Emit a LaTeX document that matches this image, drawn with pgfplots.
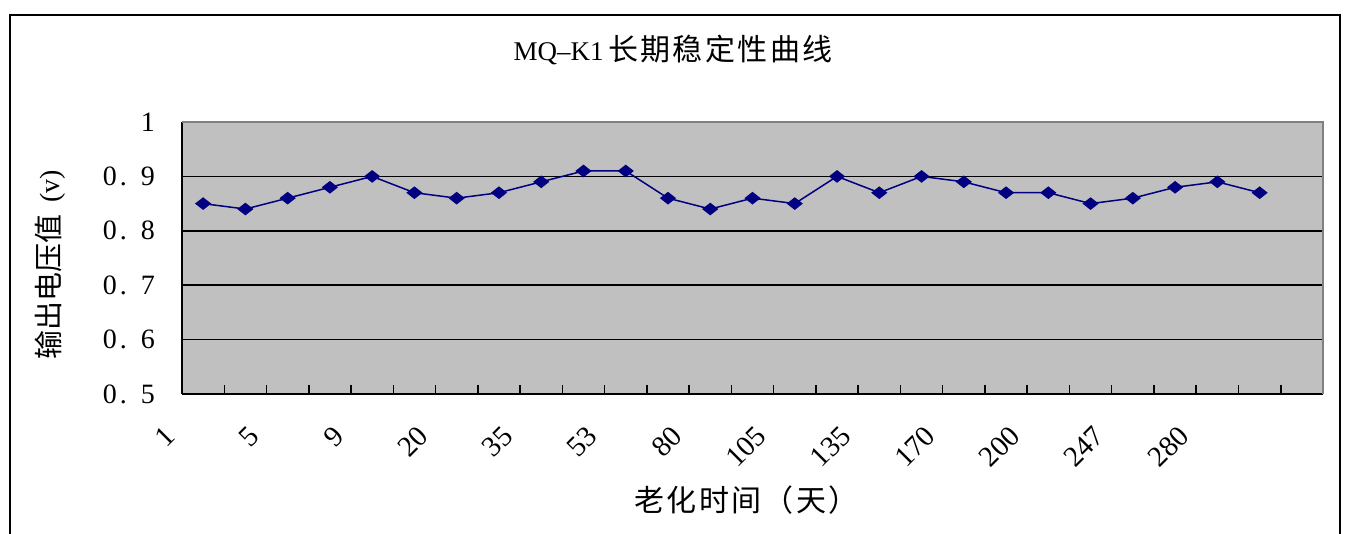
\documentclass[border=0pt]{standalone}
\usepackage{fontspec}
\setmainfont{Liberation Serif}
\newfontfamily\cjk[LetterSpace=8]{Noto Sans CJK SC}
\newfontfamily\cjkn{Noto Sans CJK SC}
\usepackage{pgfplots}
\pgfplotsset{compat=1.18}
\definecolor{navyc}{RGB}{0,0,128}
\definecolor{silverc}{RGB}{192,192,192}
\definecolor{bordergray}{RGB}{128,128,128}
% SimSun-like spacing for the y tick numbers
\newcommand{\yl}[1]{0\hspace{1.5pt}.\hspace{7pt}#1}

\begin{document}
\begin{tikzpicture}
\begin{axis}[name=ax, scale only axis,
  width=570.5pt, height=136pt,
  xmin=0.5, xmax=27.5, ymin=0.5, ymax=1,
  axis background/.style={fill=silverc},
  axis x line*=bottom, axis y line*=left,
  axis line style={black, line width=1pt},
  tick align=inside, major tick length=4.5pt,
  every tick/.style={black, line width=0.75pt},
  xtick={0.5,1.5,...,27.5},
  xticklabels={1,,5,,9,,20,,35,,53,,80,,105,,135,,170,,200,,247,,280,,,},
  ytick={0.5,0.6,0.7,0.8,0.9,1},
  yticklabels={\yl5,\yl6,\yl7,\yl8,\yl9,1},
  ymajorgrids, major grid style={black, line width=0.75pt},
  xticklabel style={xshift=-6pt, yshift=-18.5pt, rotate=45, anchor=east,
    inner sep=0pt, font=\fontsize{14.5}{16}\selectfont},
  yticklabel style={font=\fontsize{14}{16}\selectfont, xshift=-10pt},
  clip=false]
\addplot[navyc, line width=0.75pt, mark=diamond*, mark size=2.7pt,
  mark options={solid, fill=navyc, draw=navyc, xscale=1.7}] table {
x y
1 0.85
2 0.84
3 0.86
4 0.88
5 0.90
6 0.87
7 0.86
8 0.87
9 0.89
10 0.91
11 0.91
12 0.86
13 0.84
14 0.86
15 0.85
16 0.90
17 0.87
18 0.90
19 0.89
20 0.87
21 0.87
22 0.85
23 0.86
24 0.88
25 0.89
26 0.87
};
\end{axis}
\draw[bordergray, line width=0.75pt] (ax.north west) -- (ax.north east) -- (ax.south east);
\draw[black, line width=1pt] ([xshift=-86pt, yshift=-80pt]ax.south west) rectangle ([xshift=8.5pt, yshift=53.5pt]ax.north east);
\node[font=\fontsize{13.5}{16}\selectfont, inner sep=0pt] at ([xshift=245.5pt, yshift=36pt]ax.north west) {MQ--K1\,{\cjk\fontsize{15}{16}\selectfont 长期稳定性曲线}};
\node[rotate=90, font=\fontsize{14}{16}\selectfont] at ([xshift=-66pt, yshift=-3.5pt]ax.west) {{\cjkn\fontsize{14.5}{16}\selectfont 输出电压值}\hspace{6pt}(v)};
\node[font=\cjk\fontsize{15}{16}\selectfont] at ([xshift=-3pt, yshift=-53pt]ax.south) {老化时间（天）};
\pgfresetboundingbox
\path[use as bounding box] ([xshift=-91pt, yshift=-70pt]ax.south west) rectangle ([xshift=12pt, yshift=61pt]ax.north east);
\end{tikzpicture}
\end{document}
